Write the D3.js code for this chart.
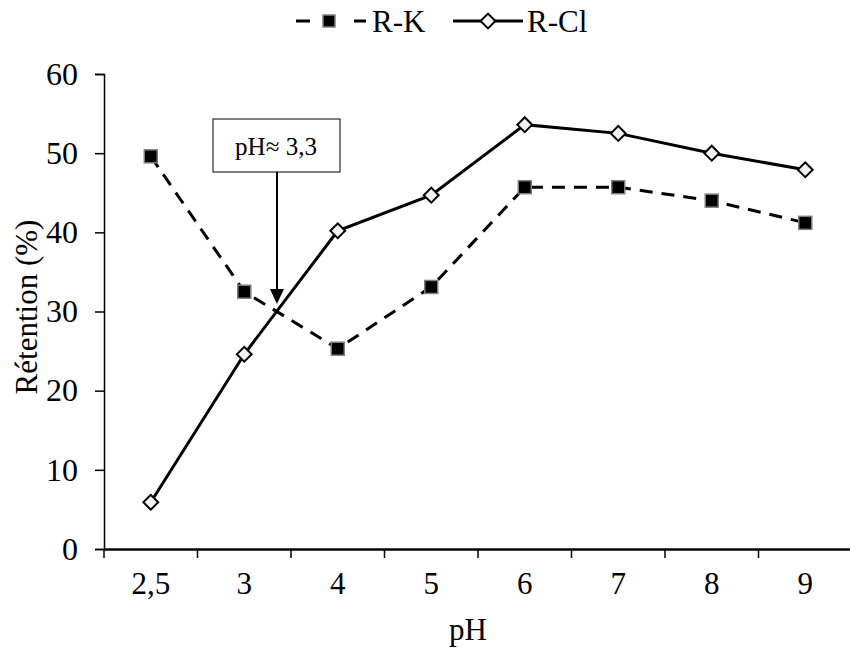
<!DOCTYPE html>
<html>
<head>
<meta charset="utf-8">
<script src="https://cdn.jsdelivr.net/npm/d3@7"></script>
<style>
  body { margin: 0; background: #fff; }
  text { font-family: "Liberation Serif", "Times New Roman", serif; }
</style>
</head>
<body>
<svg id="chart" width="850" height="650"></svg>
<script>
const categories = ["2,5", "3", "4", "5", "6", "7", "8", "9"];
const seriesRK = [49.6, 32.5, 25.3, 33.1, 45.7, 45.7, 44.0, 41.2];
const seriesRCl = [5.9, 24.6, 40.2, 44.7, 53.6, 52.5, 50.0, 47.9];
const yTicks = [0, 10, 20, 30, 40, 50, 60];
const annotationText = "pH≈ 3,3";

const svg = d3.select("#chart");
const margin = { left: 104, right: 852, top: 74, bottom: 549 };
const FS = 31;

const x = d3.scaleBand().domain(categories).range([margin.left, margin.right]).padding(0);
const y = d3.scaleLinear().domain([0, 60]).range([margin.bottom, margin.top]);
const cx = d => x(d) + x.bandwidth() / 2;

// Y axis
const yAxis = svg.append("g")
  .attr("transform", `translate(${margin.left},0)`)
  .call(d3.axisLeft(y).tickValues(yTicks).tickSize(9).tickPadding(17));
yAxis.select(".domain").attr("stroke", "#000").attr("stroke-width", 1.5);
yAxis.selectAll(".tick line").attr("stroke", "#000").attr("stroke-width", 1.5);
yAxis.selectAll(".tick text").attr("font-size", FS + 1).attr("fill", "#000")
  .attr("font-family", "Liberation Serif");

// X axis
const xAxis = svg.append("g")
  .attr("transform", `translate(0,${margin.bottom})`)
  .call(d3.axisBottom(x).tickSize(0).tickPadding(23));
xAxis.select(".domain").attr("stroke", "#000").attr("stroke-width", 2.5);
xAxis.selectAll(".tick text").attr("font-size", FS).attr("fill", "#000")
  .attr("font-family", "Liberation Serif");
// band edge ticks
const edges = categories.map(c => x(c));
svg.append("g").selectAll("line").data(edges).join("line")
  .attr("x1", d => d).attr("x2", d => d)
  .attr("y1", margin.bottom).attr("y2", margin.bottom + 9)
  .attr("stroke", "#000").attr("stroke-width", 1.5);

// Axis titles
svg.append("text").attr("x", 468).attr("y", 640)
  .attr("text-anchor", "middle").attr("font-size", FS).text("pH");
svg.append("text").attr("transform", `translate(37,307) rotate(-90)`)
  .attr("text-anchor", "middle").attr("font-size", FS).text("Rétention (%)");

// Lines
const line = d3.line().x((d, i) => cx(categories[i])).y(d => y(d));
svg.append("path").datum(seriesRK).attr("d", line)
  .attr("fill", "none").attr("stroke", "#000").attr("stroke-width", 3)
  .attr("stroke-dasharray", "13,9");
svg.append("path").datum(seriesRCl).attr("d", line)
  .attr("fill", "none").attr("stroke", "#000").attr("stroke-width", 3);

// Markers
svg.append("g").selectAll("rect").data(seriesRK).join("rect")
  .attr("x", (d, i) => cx(categories[i]) - 6.5).attr("y", d => y(d) - 6.5)
  .attr("width", 13).attr("height", 13)
  .attr("fill", "#000").attr("stroke", "#7f7f7f").attr("stroke-width", 1.5);
svg.append("g").selectAll("path").data(seriesRCl).join("path")
  .attr("transform", (d, i) => `translate(${cx(categories[i])},${y(d)}) rotate(45)`)
  .attr("d", d3.symbol().type(d3.symbolSquare).size(110))
  .attr("fill", "#f2f2f2").attr("stroke", "#000").attr("stroke-width", 2);

// Annotation
const ax = cx("3") + 0.35 * x.bandwidth();
svg.append("rect").attr("x", 213).attr("y", 119).attr("width", 127).attr("height", 53)
  .attr("fill", "#fff").attr("stroke", "#000").attr("stroke-width", 1);
svg.append("text").attr("x", 276).attr("y", 155).attr("text-anchor", "middle")
  .attr("font-size", 25).text(annotationText);
svg.append("line").attr("x1", ax).attr("x2", ax).attr("y1", 172).attr("y2", 290)
  .attr("stroke", "#000").attr("stroke-width", 2);
svg.append("path")
  .attr("d", `M${ax - 7},${289} L${ax + 7},${289} L${ax},${304} Z`)
  .attr("fill", "#000");

// Legend
const lg = svg.append("g");
const ly = 21;
lg.append("line").attr("x1", 296).attr("x2", 366).attr("y1", ly).attr("y2", ly)
  .attr("stroke", "#000").attr("stroke-width", 3).attr("stroke-dasharray", "14,44");
lg.append("rect").attr("x", 323).attr("y", ly - 6).attr("width", 12).attr("height", 12)
  .attr("fill", "#000").attr("stroke", "#7f7f7f").attr("stroke-width", 1.5);
lg.append("text").attr("x", 372).attr("y", ly + 11).attr("font-size", FS).text("R-K");
lg.append("line").attr("x1", 453).attr("x2", 523).attr("y1", ly).attr("y2", ly)
  .attr("stroke", "#000").attr("stroke-width", 3);
lg.append("path").attr("transform", `translate(488,${ly}) rotate(45)`)
  .attr("d", d3.symbol().type(d3.symbolSquare).size(110))
  .attr("fill", "#f2f2f2").attr("stroke", "#000").attr("stroke-width", 2);
lg.append("text").attr("x", 527).attr("y", ly + 11).attr("font-size", FS).text("R-Cl");
</script>
</body>
</html>
